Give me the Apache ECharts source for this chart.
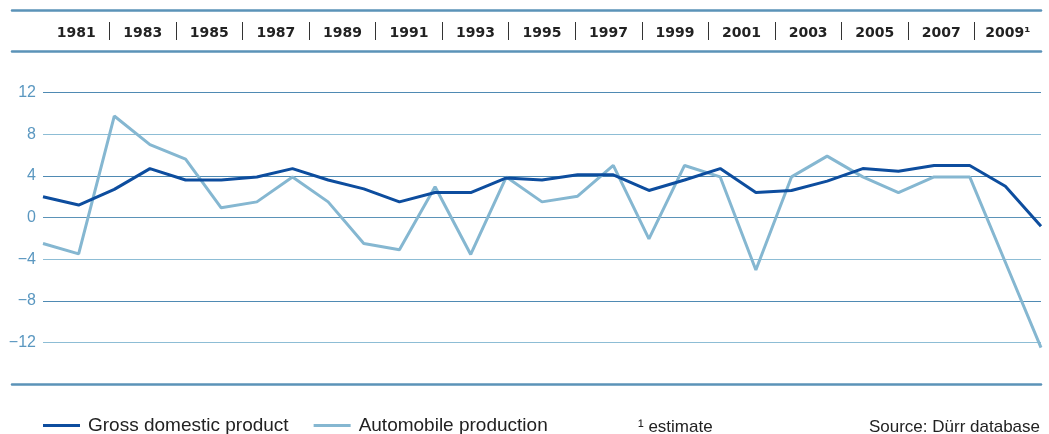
<!DOCTYPE html>
<html><head><meta charset="utf-8">
<script src="https://cdn.jsdelivr.net/npm/echarts@6/dist/echarts.min.js"></script>
<style>html,body{margin:0;padding:0;background:#fff}#c{width:1049px;height:434px}</style>
</head><body><div id="c"></div>
<script>
const years = [];
for (let y = 1981; y <= 2009; y++) years.push(String(y));
const headerLabels = ['1981','1983','1985','1987','1989','1991','1993','1995','1997','1999','2001','2003','2005','2007','2009¹'];
const gdp = [2.0,1.2,2.7,4.7,3.6,3.6,3.9,4.7,3.6,2.75,1.5,2.4,2.4,3.8,3.6,4.1,4.1,2.6,3.6,4.7,2.4,2.6,3.5,4.7,4.45,5.0,5.0,3.0,-0.85];
const auto = [-2.5,-3.5,9.75,7.0,5.6,0.93,1.5,3.9,1.5,-2.5,-3.1,2.95,-3.55,3.9,1.5,2.05,5.0,-2.05,5.0,3.9,-5.05,3.9,5.9,3.9,2.4,3.9,3.9,-4.3,-12.5];
const yTicks = [-16,-12,-8,-4,0,4,8,12,16];
const seriesNames = ['Gross domestic product','Automobile production'];

const ruleColor = '#5b93b8';
function rule(gridIndex, position) {
  return {type: 'value', gridIndex, position,
    axisLine: {show: true, onZero: false, lineStyle: {color: ruleColor, width: 2.5}},
    axisTick: {show: false}, axisLabel: {show: false}, splitLine: {show: false}};
}
const chart = echarts.init(document.getElementById('c'));
chart.setOption({
  animation: false,
  textStyle: {fontFamily: 'Liberation Sans'},
  grid: [
    {left: 43, right: 8, top: 51, bottom: 50},
    {left: 12, right: 8, top: 10, height: 41},
    {left: 12, right: 8, top: 51, bottom: 50}
  ],
  xAxis: [
    {type: 'category', gridIndex: 0, data: years, boundaryGap: false, show: false, axisLine: {onZero: false}},
    {type: 'value', gridIndex: 0, position: 'top', min: 0, max: headerLabels.length, offset: 11,
     axisLine: {show: false, onZero: false}, splitLine: {show: false},
     axisTick: {show: true, customValues: headerLabels.slice(1).map((_, i) => i + 1), length: 18, lineStyle: {color: '#333', width: 1}},
     axisLabel: {customValues: headerLabels.map((_, i) => i + 0.5), formatter: v => headerLabels[Math.floor(v)],
       margin: 0, fontFamily: 'DejaVu Sans', fontWeight: 'bold', fontSize: 14, color: '#222'}},
    rule(1, 'top'),
    rule(1, 'bottom'),
    rule(2, 'bottom')
  ],
  yAxis: [
    {type: 'value', gridIndex: 0, min: yTicks[0], max: yTicks[yTicks.length-1], interval: 4,
     axisLine: {show: false}, axisTick: {show: false},
     axisLabel: {showMinLabel: false, showMaxLabel: false, margin: 7, fontSize: 16, color: '#5a97c0',
       formatter: v => String(v).replace('-', '\u2212')},
     splitLine: {show: true, lineStyle: {width: 1.2, color: ['#ffffff','#8dbdd5','#4f8ab3','#8dbdd5','#5b93b8','#4f8ab3','#8dbdd5','#4f8ab3','#ffffff']}}},
    {type: 'value', gridIndex: 1, show: false},
    {type: 'value', gridIndex: 2, show: false}
  ],
  legend: {
    left: 38, top: 411, icon: 'rect', itemWidth: 37, itemHeight: 3, itemGap: 25,
    textStyle: {fontSize: 19, color: '#222', padding: [0, 0, 0, 3]},
    data: seriesNames
  },
  title: [
    {text: '¹ estimate', left: 633, top: 414, textStyle: {fontSize: 17, fontWeight: 'normal', color: '#222'}},
    {text: 'Source: Dürr database', right: 4, top: 414, textStyle: {fontSize: 17, fontWeight: 'normal', color: '#222'}}
  ],
  series: [
    {name: seriesNames[1], type: 'line', data: auto, xAxisIndex: 0, yAxisIndex: 0, showSymbol: false, symbol: 'none',
     lineStyle: {color: '#85b7d1', width: 3}, itemStyle: {color: '#85b7d1'}},
    {name: seriesNames[0], type: 'line', data: gdp, xAxisIndex: 0, yAxisIndex: 0, showSymbol: false, symbol: 'none',
     lineStyle: {color: '#0d4d9e', width: 3}, itemStyle: {color: '#0d4d9e'}, z: 3}
  ]
});
</script></body></html>
